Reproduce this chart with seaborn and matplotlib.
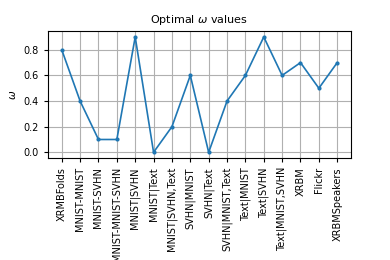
import pandas as pd
import matplotlib
matplotlib.use("Agg")
import matplotlib.pyplot as plt
import seaborn as sns

experiments = ["XRMBFolds", "MNIST-MNIST", "MNIST-SVHN", "MNIST-MNIST-SVHN",
               "MNIST|SVHN", "MNIST|Text", "MNIST|SVHN,Text", "SVHN|MNIST",
               "SVHN|Text", "SVHN|MNIST,Text", "Text|MNIST", "Text|SVHN",
               "Text|MNIST,SVHN", "XRBM", "Flickr", "XRBMSpeakers"]
omega = [0.8, 0.4, 0.1, 0.1, 0.9, 0.0, 0.2, 0.6, 0.0, 0.4, 0.6, 0.9, 0.6, 0.7, 0.5, 0.7]

sns.set_style("ticks", {"axes.grid": True, "grid.color": "#b0b0b0",
                        "text.color": "black", "axes.labelcolor": "black",
                        "xtick.color": "black", "ytick.color": "black",
                        "axes.edgecolor": "black"})

df = pd.DataFrame({"experiment": experiments, "omega": omega})

fig, ax = plt.subplots(figsize=(3.9, 2.6), dpi=100)
sns.lineplot(data=df, x="experiment", y="omega", marker="o", markersize=3,
             markeredgewidth=0, color="#1f77b4", linewidth=1.2, sort=False, ax=ax)
ax.set_title(r"Optimal $\omega$ values", fontsize=8, color="black")
ax.set_xlabel("")
ax.set_ylabel(r"$\omega$", fontsize=7.5)
ax.set_yticks([0.0, 0.2, 0.4, 0.6, 0.8])
ax.tick_params(axis="x", rotation=90, labelsize=7, length=3, width=0.8)
ax.tick_params(axis="y", labelsize=7, length=3, width=0.8)
for s in ax.spines.values():
    s.set_linewidth(0.8)
ax.grid(True, linewidth=0.8)
fig.subplots_adjust(left=0.123, right=0.9, top=0.88, bottom=0.392)
fig.savefig("out.png", dpi=100)
